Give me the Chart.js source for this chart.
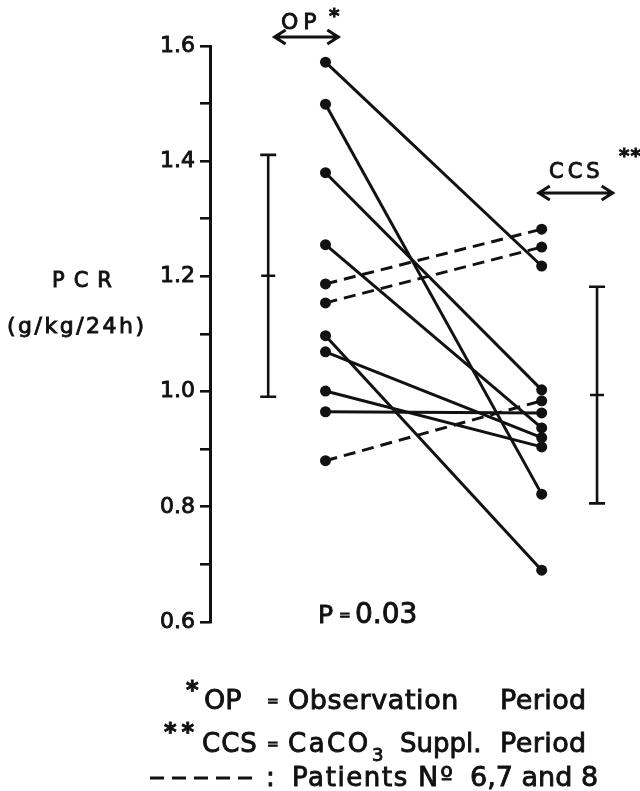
<!DOCTYPE html>
<html lang="en">
<head>
    <meta charset="UTF-8">
    <title>PCR OP vs CCS</title>
    <script src="https://cdn.jsdelivr.net/npm/chart.js"></script>
    <style>
        body { margin: 0; background: #fff; }
        canvas { display: block; }
    </style>
</head>
<body>
    <canvas id="pcrChart" width="640" height="791"></canvas>
    <script>
        // PCR (g/kg/24h) per patient, observation period vs CaCO3 supplementation
        const opValues  = [1.572, 1.499, 1.380, 1.255, 1.187, 1.154, 1.097, 1.069, 1.001, 0.965, 0.880];
        const ccsValues = [1.218, 0.822, 1.003, 0.937, 1.282, 1.251, 0.690, 0.920, 0.904, 0.963, 0.984];
        const dashed    = [false, false, false, false, true, true, false, false, false, false, true]; // patients 6, 7, 8

        // mean +/- SD bars
        const opMean = 1.201, opSD = 0.210;
        const ccsMean = 0.994, ccsSD = 0.188;

        const yTicks = [0.6, 0.8, 1.0, 1.2, 1.4, 1.6];

        const ink = '#111';
        const font = '"DejaVu Sans", sans-serif';

        const datasets = opValues.map((v, i) => ({
            data: [{ x: 1, y: v }, { x: 2, y: ccsValues[i] }],
            borderColor: ink,
            backgroundColor: ink,
            borderWidth: 3,
            borderDash: dashed[i] ? [12, 7] : [],
            pointRadius: 5.5,
            pointHoverRadius: 5.5,
            pointBackgroundColor: ink,
            pointBorderWidth: 0
        }));

        function arrow(ctx, x1, x2, y) {
            ctx.beginPath();
            ctx.moveTo(x1, y); ctx.lineTo(x2, y);
            ctx.moveTo(x1 + 12, y - 7); ctx.lineTo(x1 + 1, y); ctx.lineTo(x1 + 12, y + 7);
            ctx.moveTo(x2 - 12, y - 7); ctx.lineTo(x2 - 1, y); ctx.lineTo(x2 - 12, y + 7);
            ctx.stroke();
        }

        function errorBar(ctx, x, yScale, mean, sd) {
            const top = yScale.getPixelForValue(mean + sd);
            const bot = yScale.getPixelForValue(mean - sd);
            const mid = yScale.getPixelForValue(mean);
            ctx.beginPath();
            ctx.moveTo(x, top); ctx.lineTo(x, bot);
            ctx.moveTo(x - 8, top); ctx.lineTo(x + 8, top);
            ctx.moveTo(x - 8, bot); ctx.lineTo(x + 8, bot);
            ctx.moveTo(x - 7, mid); ctx.lineTo(x + 7, mid);
            ctx.stroke();
        }

        // filled text with a thin stroke so it reads as heavy as the scan
        function txt(ctx, s, x, y, size, spacing, weight) {
            ctx.font = (weight || 'normal') + ' ' + size + 'px ' + font;
            ctx.letterSpacing = (spacing || 0) + 'px';
            ctx.lineWidth = 0.9;
            ctx.fillText(s, x, y);
            ctx.strokeText(s, x, y);
        }

        const extras = {
            id: 'extras',
            afterDraw(chart) {
                const ctx = chart.ctx;
                const xs = chart.scales.x, ys = chart.scales.y;
                ctx.save();
                ctx.strokeStyle = ink;
                ctx.fillStyle = ink;
                ctx.lineWidth = 2.6;

                errorBar(ctx, xs.getPixelForValue(0.735), ys, opMean, opSD);
                errorBar(ctx, xs.getPixelForValue(2.256), ys, ccsMean, ccsSD);

                ctx.lineWidth = 3;
                arrow(ctx, xs.getPixelForValue(0.76), xs.getPixelForValue(1.064), 37);
                arrow(ctx, xs.getPixelForValue(1.982), xs.getPixelForValue(2.333), 193);

                ctx.textBaseline = 'alphabetic';
                ctx.textAlign = 'left';
                txt(ctx, 'OP', 281, 29, 22, 5);
                txt(ctx, '*', 329, 22, 20, 0, 'bold');
                txt(ctx, 'CCS', 549, 178, 21, 4);
                txt(ctx, '**', 619, 162, 20, 1, 'bold');

                txt(ctx, 'PCR', 52, 287, 21, 9);
                txt(ctx, '(g/kg/24h)', 7, 333, 22, 2.5);

                txt(ctx, 'P', 318, 623, 25);
                txt(ctx, '=', 339, 620, 14);
                txt(ctx, '0.03', 355, 623, 28);

                // footnotes
                txt(ctx, '*', 186, 698, 24, 0, 'bold');
                txt(ctx, 'OP', 204, 709, 27);
                txt(ctx, '=', 267, 706, 14);
                txt(ctx, 'Observation', 288, 709, 27, 0.6);
                txt(ctx, 'Period', 500, 709, 27, 0.4);

                txt(ctx, '**', 164, 740, 24, 5, 'bold');
                txt(ctx, 'CCS', 202, 752, 26, 1);
                txt(ctx, '=', 267, 749, 14);
                txt(ctx, 'CaCO', 288, 752, 26, 2.5);
                txt(ctx, '3', 372, 761, 18);
                txt(ctx, 'Suppl.', 400, 752, 26);
                txt(ctx, 'Period', 500, 752, 27, 0.4);

                ctx.lineWidth = 3;
                ctx.setLineDash([14, 8]);
                ctx.beginPath();
                ctx.moveTo(150, 778); ctx.lineTo(260, 778);
                ctx.stroke();
                ctx.setLineDash([]);
                txt(ctx, ':', 266, 786, 26);
                txt(ctx, 'Patients', 292, 786, 26, 1.6);
                txt(ctx, 'Nº', 418, 786, 27, 2);
                txt(ctx, '6,7 and 8', 470, 786, 27);
                ctx.restore();
            }
        };

        // x: 1 = OP, 2 = CCS
        new Chart(document.getElementById('pcrChart'), {
            type: 'line',
            data: { datasets: datasets },
            options: {
                responsive: false,
                animation: false,
                events: [],
                layout: { padding: { top: 46, bottom: 169, left: 0, right: 0 } },
                plugins: { legend: { display: false }, tooltip: { enabled: false } },
                scales: {
                    x: {
                        type: 'linear',
                        min: 0.4658,
                        max: 2.4293,
                        display: false
                    },
                    y: {
                        min: 0.6,
                        max: 1.6,
                        afterFit(scale) { scale.width = 210; },
                        border: { display: true, color: ink, width: 3 },
                        grid: {
                            drawOnChartArea: false,
                            drawTicks: true,
                            tickLength: 10,
                            color: ink,
                            lineWidth: 2.6
                        },
                        ticks: {
                            stepSize: 0.1,
                            padding: 5,
                            color: ink,
                            textStrokeColor: ink,
                            textStrokeWidth: 0.9,
                            font: { family: font, size: 22 },
                            callback: v => {
                                const t = yTicks.find(k => Math.abs(k - v) < 1e-6);
                                return t !== undefined ? t.toFixed(1) : '';
                            }
                        }
                    }
                }
            },
            plugins: [extras]
        });
    </script>
</body>
</html>
